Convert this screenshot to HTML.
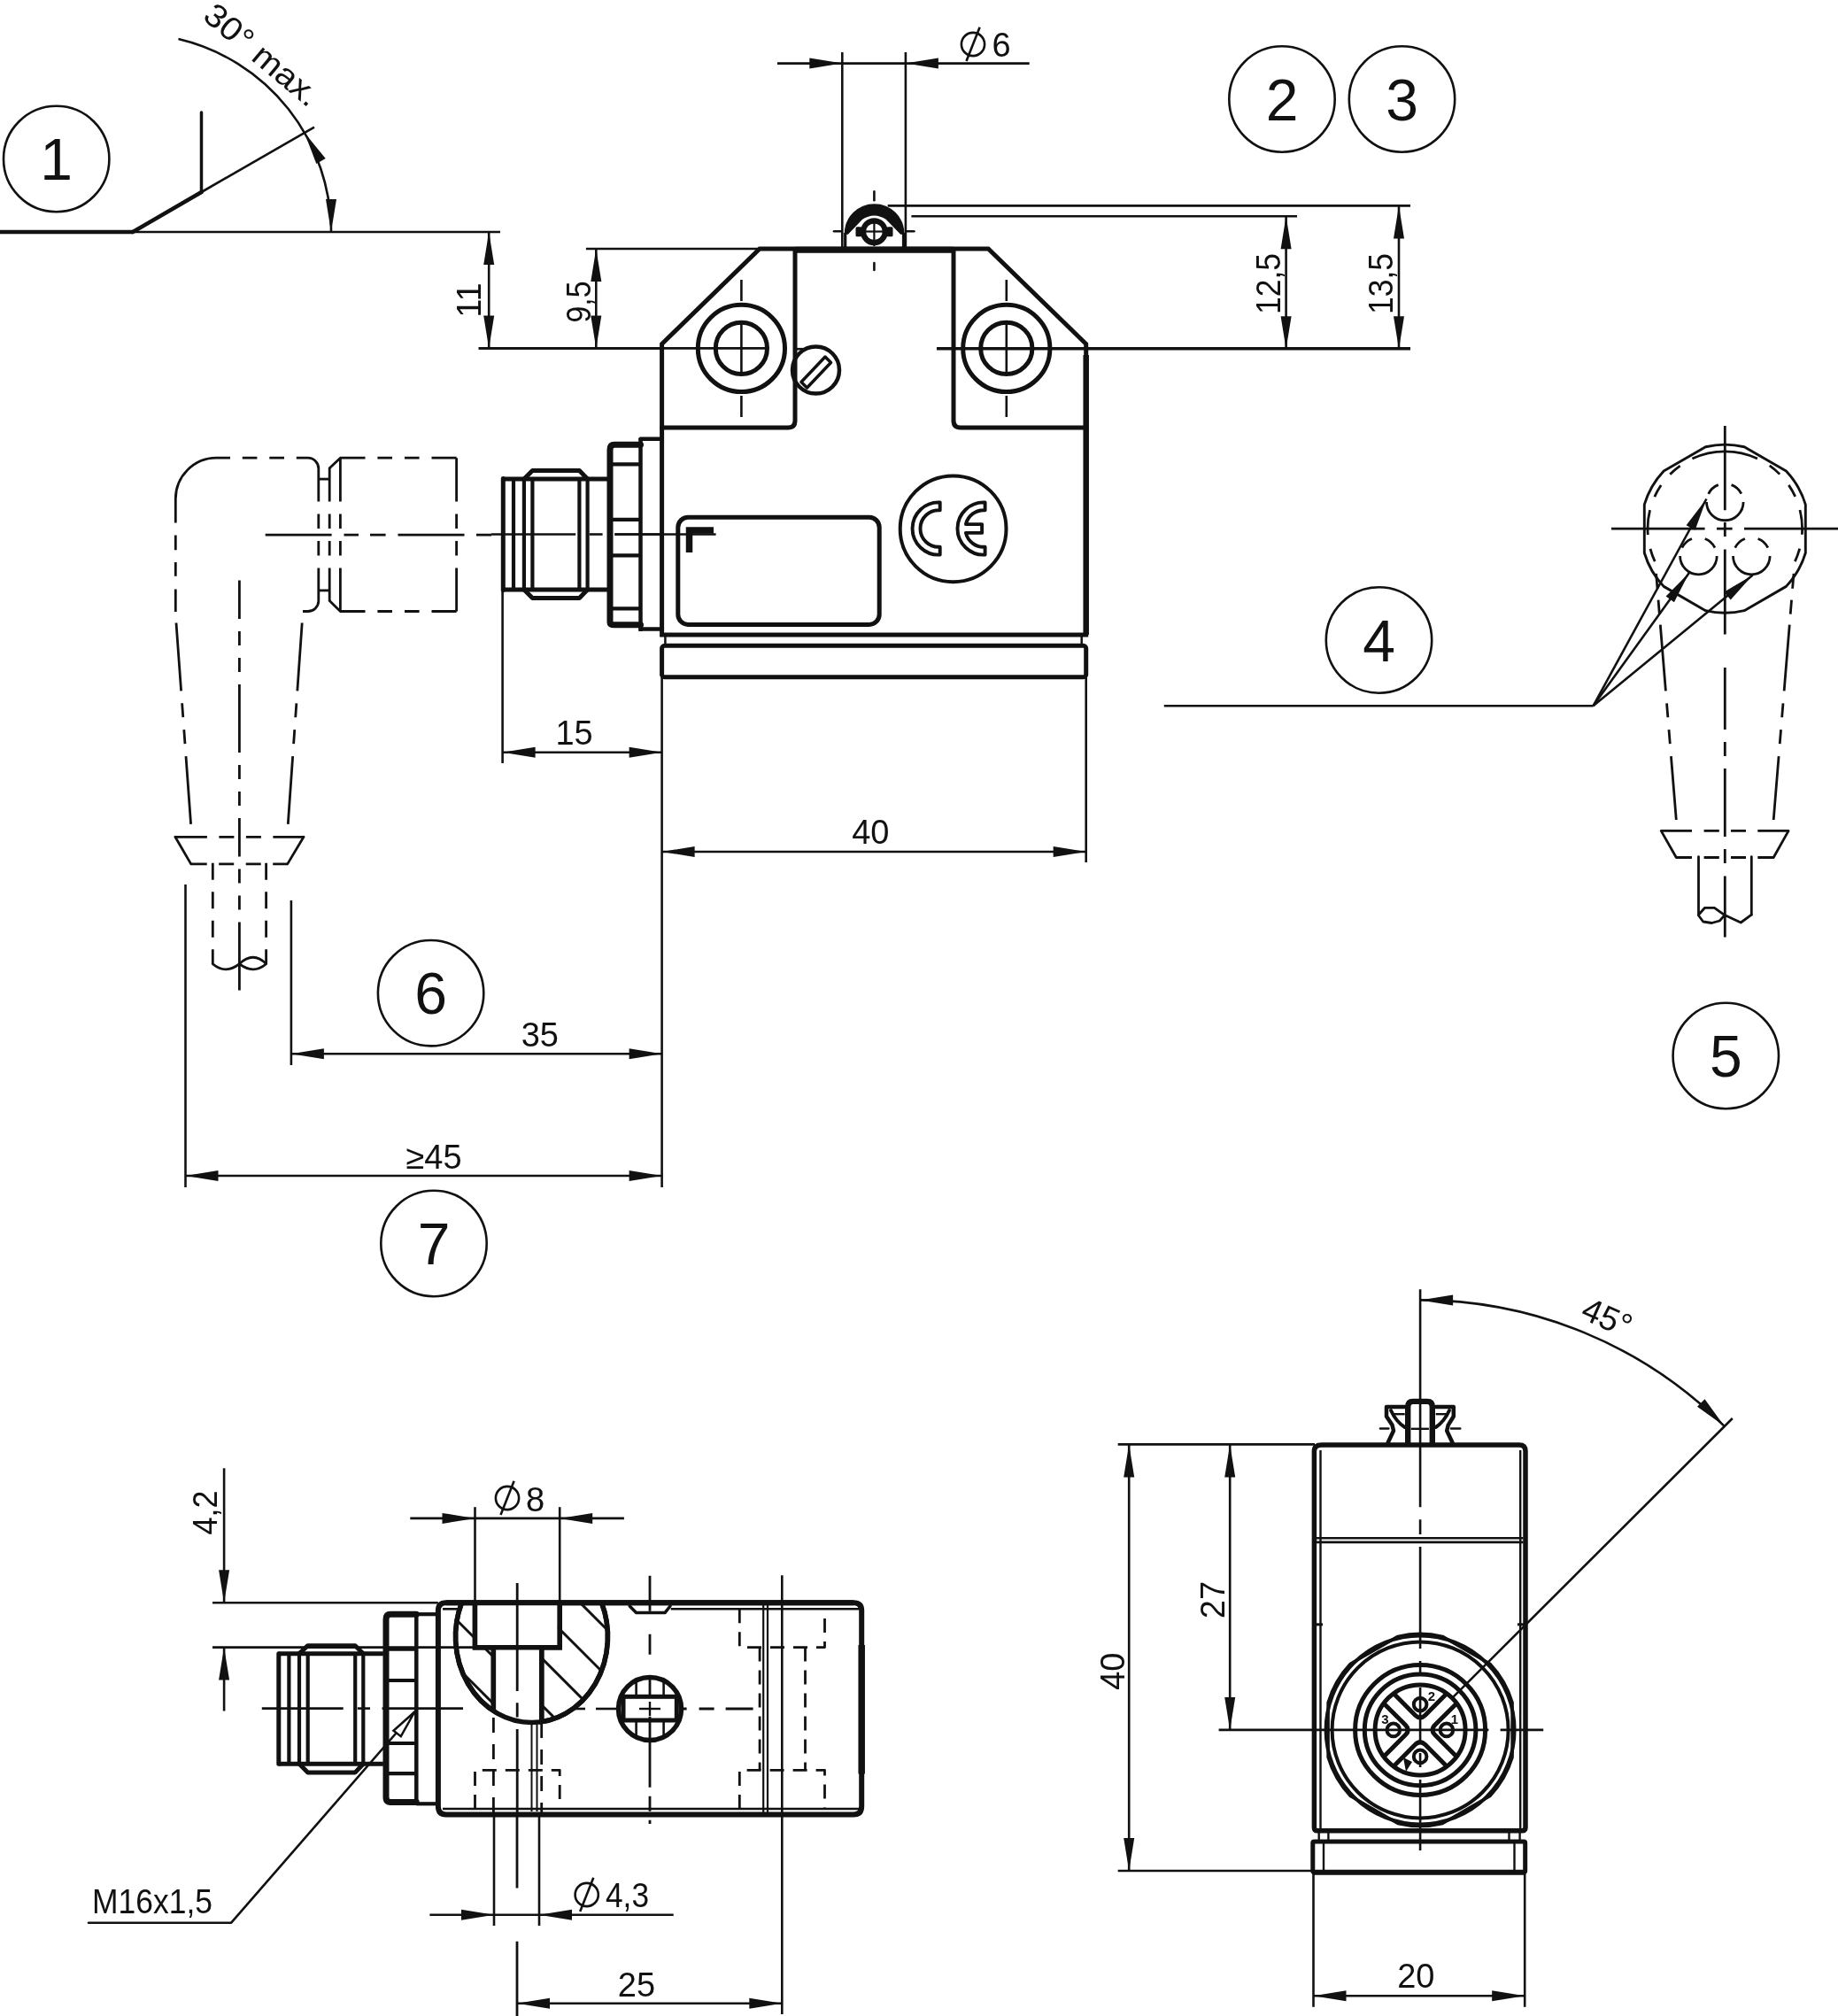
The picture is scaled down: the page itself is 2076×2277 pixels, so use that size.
<!DOCTYPE html>
<html><head><meta charset="utf-8"><style>
html,body{margin:0;padding:0;background:#fff;}
svg{display:block;will-change:transform;}
text{font-family:"Liberation Sans",sans-serif;fill:#111;stroke:none;}
</style></head><body>
<svg width="2076" height="2277" viewBox="0 0 2076 2277" stroke="#111" fill="none">
<circle cx="63.7" cy="179.5" r="59.7" stroke-width="2.6" fill="none"/>
<text x="63.7" y="203.0" font-size="66" text-anchor="middle">1</text>
<line x1="0.0" y1="262.0" x2="565.0" y2="262.0" stroke-width="2.6" stroke-linecap="butt"/>
<line x1="0.0" y1="262.0" x2="150.0" y2="262.0" stroke-width="4.5" stroke-linecap="butt"/>
<line x1="150.0" y1="262.0" x2="227.5" y2="217.0" stroke-width="4.5" stroke-linecap="round"/>
<line x1="227.5" y1="217.0" x2="355.0" y2="143.6" stroke-width="2.6" stroke-linecap="butt"/>
<line x1="227.5" y1="127.0" x2="227.5" y2="217.0" stroke-width="3.5" stroke-linecap="round"/>
<path d="M374.0,262.0 A224,224 0 0 0 201.5,44.0" stroke-width="2.6" fill="none" stroke-linejoin="round" stroke-linecap="butt"/>
<polygon points="344.0,150.0 367.7,179.0 357.3,185.0" stroke="none" fill="#111"/>
<polygon points="374.0,262.0 368.0,225.0 380.0,225.0" stroke="none" fill="#111"/>
<text x="288.0" y="71.5" font-size="37" text-anchor="middle" transform="rotate(40 288.0 71.5)" textLength="158" lengthAdjust="spacingAndGlyphs">30° max.</text>
<line x1="540.7" y1="393.4" x2="747.6" y2="393.4" stroke-width="2.6" stroke-linecap="butt"/>
<line x1="552.2" y1="262.0" x2="552.2" y2="393.4" stroke-width="2.6" stroke-linecap="butt"/>
<polygon points="552.2,262.0 558.2,299.0 546.2,299.0" stroke="none" fill="#111"/>
<polygon points="552.2,393.4 546.2,356.4 558.2,356.4" stroke="none" fill="#111"/>
<text x="543.0" y="339.0" font-size="38" text-anchor="middle" transform="rotate(-90 543.0 339.0)">11</text>
<line x1="661.9" y1="281.0" x2="858.0" y2="281.0" stroke-width="2.6" stroke-linecap="butt"/>
<line x1="673.3" y1="281.0" x2="673.3" y2="393.4" stroke-width="2.6" stroke-linecap="butt"/>
<polygon points="673.3,281.0 679.3,318.0 667.3,318.0" stroke="none" fill="#111"/>
<polygon points="673.3,393.4 667.3,356.4 679.3,356.4" stroke="none" fill="#111"/>
<text x="667.0" y="341.0" font-size="38" text-anchor="middle" transform="rotate(-90 667.0 341.0)" textLength="47" lengthAdjust="spacingAndGlyphs">9,5</text>
<path d="M747.6,717 L747.6,388.5 L858,281 L1116.3,281 L1226.7,388.5 L1226.7,717 Z" stroke-width="5.0" fill="none" stroke-linejoin="miter" stroke-linecap="round"/>
<path d="M747.6,483 L890,483 Q898,483 898,475 L898,283" stroke-width="5.0" fill="none" stroke-linejoin="round" stroke-linecap="round"/>
<path d="M1226.7,483 L1085,483 Q1077,483 1077,475 L1077,283" stroke-width="5.0" fill="none" stroke-linejoin="round" stroke-linecap="round"/>
<rect x="747.6" y="729.3" width="479.1" height="35.4" rx="3" stroke-width="5.0" fill="none"/>
<line x1="751.4" y1="717.0" x2="751.4" y2="729.0" stroke-width="2.5" stroke-linecap="butt"/>
<line x1="1221.7" y1="717.0" x2="1221.7" y2="729.0" stroke-width="2.5" stroke-linecap="butt"/>
<circle cx="837.4" cy="393.4" r="49.1" stroke-width="5.0" fill="none"/>
<circle cx="837.4" cy="393.4" r="29.1" stroke-width="5.0" fill="none"/>
<line x1="837.4" y1="364.0" x2="837.4" y2="423.0" stroke-width="2.6" stroke-linecap="butt"/>
<line x1="837.4" y1="316.0" x2="837.4" y2="340.0" stroke-width="2.6" stroke-linecap="butt"/>
<line x1="837.4" y1="447.0" x2="837.4" y2="471.0" stroke-width="2.6" stroke-linecap="butt"/>
<circle cx="1136.8" cy="393.4" r="49.1" stroke-width="5.0" fill="none"/>
<circle cx="1136.8" cy="393.4" r="29.1" stroke-width="5.0" fill="none"/>
<line x1="1136.8" y1="364.0" x2="1136.8" y2="423.0" stroke-width="2.6" stroke-linecap="butt"/>
<line x1="1136.8" y1="316.0" x2="1136.8" y2="340.0" stroke-width="2.6" stroke-linecap="butt"/>
<line x1="1136.8" y1="447.0" x2="1136.8" y2="471.0" stroke-width="2.6" stroke-linecap="butt"/>
<line x1="540.7" y1="393.4" x2="867.5" y2="393.4" stroke-width="2.6" stroke-linecap="butt"/>
<line x1="1058.0" y1="393.4" x2="1593.0" y2="393.4" stroke-width="2.6" stroke-linecap="butt"/>
<circle cx="921.5" cy="418.0" r="26.5" stroke-width="4.5" fill="none"/>
<path d="M905,431.5 L932,403 L938.5,409.5 L911.5,438 Z" stroke-width="3.5" fill="none" stroke-linejoin="round" stroke-linecap="round"/>
<rect x="765.8" y="584.3" width="227.4" height="121.1" rx="11.4" stroke-width="5.0" fill="none"/>
<path d="M778.5,624 L778.5,599 L806,599" stroke-width="7.5" fill="none" stroke-linejoin="miter" stroke-linecap="butt"/>
<line x1="694.3" y1="603.5" x2="808.6" y2="603.5" stroke-width="2.6" stroke-linecap="butt"/>
<circle cx="1076.6" cy="597.3" r="59.9" stroke-width="4" fill="none"/>
<line x1="898.0" y1="282.2" x2="1077.0" y2="282.2" stroke-width="7" stroke-linecap="butt"/>
<line x1="1226.7" y1="401.0" x2="1226.7" y2="717.0" stroke-width="6.5" stroke-linecap="butt"/>
<path d="M1061.70,567.44 A29.6,29.6 0 1 0 1061.70,626.56 L1061.70,617.75 A20.8,20.8 0 1 1 1061.70,576.25 Z" stroke-width="3.9" fill="none" stroke-linejoin="round" stroke-linecap="round"/>
<path d="M1112.60,567.44 A29.6,29.6 0 1 0 1112.60,626.56 L1112.60,617.75 A20.8,20.8 0 0 1 1090.89,601.90 L1109.10,601.90 L1109.10,592.10 L1090.89,592.10 A20.8,20.8 0 0 1 1112.60,576.25 Z" stroke-width="3.9" fill="none" stroke-linejoin="round" stroke-linecap="round"/>
<path d="M568.3,540.4 L568.3,666.6" stroke-width="5.0" fill="none" stroke-linejoin="round" stroke-linecap="round"/>
<line x1="568.3" y1="541.0" x2="686.0" y2="541.0" stroke-width="5.0" stroke-linecap="butt"/>
<line x1="568.3" y1="666.0" x2="686.0" y2="666.0" stroke-width="5.0" stroke-linecap="butt"/>
<line x1="580.0" y1="541.0" x2="580.0" y2="666.0" stroke-width="4.2" stroke-linecap="butt"/>
<line x1="591.9" y1="541.0" x2="591.9" y2="666.0" stroke-width="4.2" stroke-linecap="butt"/>
<line x1="601.4" y1="541.0" x2="601.4" y2="666.0" stroke-width="4.2" stroke-linecap="butt"/>
<line x1="654.4" y1="541.0" x2="654.4" y2="666.0" stroke-width="4.2" stroke-linecap="butt"/>
<line x1="663.6" y1="541.0" x2="663.6" y2="666.0" stroke-width="4.2" stroke-linecap="butt"/>
<path d="M591.9,541 L601.4,531.4 L654.4,531.4 L663.6,541" stroke-width="5.0" fill="none" stroke-linejoin="round" stroke-linecap="round"/>
<path d="M591.9,666 L601.4,675.5 L654.4,675.5 L663.6,666" stroke-width="5.0" fill="none" stroke-linejoin="round" stroke-linecap="round"/>
<path d="M723.5,502.3 L694,502.3 Q689,502.3 689,508 L689,703 Q689,705.8 694,705.8 L723.5,705.8" stroke-width="7" fill="none" stroke-linejoin="round" stroke-linecap="round"/>
<line x1="723.5" y1="495.0" x2="723.5" y2="713.0" stroke-width="4.5" stroke-linecap="butt"/>
<line x1="691.0" y1="524.3" x2="723.5" y2="524.3" stroke-width="4.2" stroke-linecap="butt"/>
<line x1="691.0" y1="586.8" x2="723.5" y2="586.8" stroke-width="4.2" stroke-linecap="butt"/>
<line x1="691.0" y1="627.3" x2="723.5" y2="627.3" stroke-width="4.2" stroke-linecap="butt"/>
<line x1="691.0" y1="687.4" x2="723.5" y2="687.4" stroke-width="4.2" stroke-linecap="butt"/>
<path d="M723.5,495.7 L747.3,495.7 M723.5,710.6 L747.3,710.6" stroke-width="4.5" fill="none" stroke-linejoin="round" stroke-linecap="round"/>
<line x1="555.0" y1="603.5" x2="650.2" y2="603.5" stroke-width="2.6" stroke-linecap="butt"/>
<line x1="665.7" y1="603.5" x2="680.6" y2="603.5" stroke-width="2.6" stroke-linecap="butt"/>
<line x1="694.3" y1="603.5" x2="747.0" y2="603.5" stroke-width="2.6" stroke-linecap="butt"/>
<line x1="954.7" y1="263.0" x2="954.7" y2="281.0" stroke-width="3.2" stroke-linecap="butt"/>
<line x1="1020.5" y1="263.0" x2="1020.5" y2="281.0" stroke-width="3.2" stroke-linecap="butt"/>
<path d="M954.5,264 A33,33 0 0 1 1020.7,264 L1017.5,264 L1001.5,247.5 Q987.4,238 973.3,247.5 L957.5,264 Z" stroke-width="1.5" fill="#111" stroke-linejoin="round" stroke-linecap="round"/>
<circle cx="987.4" cy="261.7" r="12.4" stroke-width="6.2" fill="none"/>
<rect x="966.5" y="256.2" width="7" height="11" rx="1.5" fill="#111" stroke="none"/>
<rect x="1001.5" y="256.2" width="7" height="11" rx="1.5" fill="#111" stroke="none"/>
<line x1="987.4" y1="250.0" x2="987.4" y2="278.0" stroke-width="2.2" stroke-linecap="butt"/>
<line x1="978.0" y1="261.5" x2="997.0" y2="261.5" stroke-width="2.2" stroke-linecap="butt"/>
<line x1="987.4" y1="216.4" x2="987.4" y2="226.3" stroke-width="2.6" stroke-linecap="round"/>
<line x1="987.4" y1="297.0" x2="987.4" y2="305.0" stroke-width="2.6" stroke-linecap="round"/>
<line x1="942.0" y1="261.3" x2="950.0" y2="261.3" stroke-width="2.6" stroke-linecap="round"/>
<line x1="1024.0" y1="261.3" x2="1032.4" y2="261.3" stroke-width="2.6" stroke-linecap="round"/>
<line x1="878.0" y1="71.6" x2="1162.7" y2="71.6" stroke-width="2.6" stroke-linecap="butt"/>
<line x1="951.3" y1="59.0" x2="951.3" y2="280.0" stroke-width="2.6" stroke-linecap="butt"/>
<line x1="1022.9" y1="59.0" x2="1022.9" y2="280.0" stroke-width="2.6" stroke-linecap="butt"/>
<polygon points="951.3,71.6 914.3,77.6 914.3,65.6" stroke="none" fill="#111"/>
<polygon points="1022.9,71.6 1059.9,65.6 1059.9,77.6" stroke="none" fill="#111"/>
<circle cx="1099.0" cy="50.0" r="13.1" stroke-width="2.6" fill="none"/>
<line x1="1106.6" y1="30.8" x2="1091.5" y2="69.0" stroke-width="2.6" stroke-linecap="butt"/>
<text x="1131.0" y="63.5" font-size="38" text-anchor="middle">6</text>
<line x1="1002.7" y1="232.4" x2="1593.0" y2="232.4" stroke-width="2.6" stroke-linecap="butt"/>
<line x1="1029.4" y1="244.2" x2="1465.0" y2="244.2" stroke-width="2.6" stroke-linecap="butt"/>
<line x1="1058.0" y1="394.2" x2="1593.0" y2="394.2" stroke-width="2.6" stroke-linecap="butt"/>
<line x1="898.0" y1="394.2" x2="912.0" y2="394.2" stroke-width="2.6" stroke-linecap="butt"/>
<line x1="1452.6" y1="244.2" x2="1452.6" y2="394.2" stroke-width="2.6" stroke-linecap="butt"/>
<polygon points="1452.6,244.2 1458.6,281.2 1446.6,281.2" stroke="none" fill="#111"/>
<polygon points="1452.6,394.2 1446.6,357.2 1458.6,357.2" stroke="none" fill="#111"/>
<text x="1446.0" y="320.5" font-size="38" text-anchor="middle" transform="rotate(-90 1446.0 320.5)" textLength="69" lengthAdjust="spacingAndGlyphs">12,5</text>
<line x1="1580.0" y1="232.4" x2="1580.0" y2="394.2" stroke-width="2.6" stroke-linecap="butt"/>
<polygon points="1580.0,232.4 1586.0,269.4 1574.0,269.4" stroke="none" fill="#111"/>
<polygon points="1580.0,394.2 1574.0,357.2 1586.0,357.2" stroke="none" fill="#111"/>
<text x="1573.0" y="320.5" font-size="38" text-anchor="middle" transform="rotate(-90 1573.0 320.5)" textLength="69" lengthAdjust="spacingAndGlyphs">13,5</text>
<circle cx="1448.0" cy="112.0" r="59.7" stroke-width="2.6" fill="none"/>
<text x="1448.0" y="135.5" font-size="66" text-anchor="middle">2</text>
<circle cx="1583.5" cy="112.0" r="59.7" stroke-width="2.6" fill="none"/>
<text x="1583.5" y="135.5" font-size="66" text-anchor="middle">3</text>
<path d="M198.3,590.6 L198.3,563.5 A46.3,46.3 0 0 1 244.3,517.2 L260,517.2" stroke-width="2.8" fill="none" stroke-linejoin="round" stroke-linecap="butt"/>
<path d="M273.8,517.2 L290.4,517.2 M304.3,517.2 L321,517.2" stroke-width="2.8" fill="none" stroke-linejoin="round" stroke-linecap="butt"/>
<path d="M334.8,517.2 L347.8,517.2 A12,12 0 0 1 359.8,529.2 L359.8,566.6" stroke-width="2.8" fill="none" stroke-linejoin="round" stroke-linecap="butt"/>
<path d="M198.3,604.5 L198.3,621.2 M198.3,635 L198.3,650.8 M198.3,665.6 L198.3,691" stroke-width="2.8" fill="none" stroke-linejoin="round" stroke-linecap="butt"/>
<path d="M359.8,580.5 L359.8,597 M359.8,611 L359.8,627.6" stroke-width="2.8" fill="none" stroke-linejoin="round" stroke-linecap="butt"/>
<path d="M359.8,641.5 L359.8,679 A12,12 0 0 1 347.8,690.5 L342,690.5" stroke-width="2.8" fill="none" stroke-linejoin="round" stroke-linecap="butt"/>
<path d="M372.2,528.7 L372.2,566.6 M372.2,580.5 L372.2,597 M372.2,611 L372.2,627.6 M372.2,641.5 L372.2,678.5" stroke-width="2.8" fill="none" stroke-linejoin="round" stroke-linecap="butt"/>
<line x1="359.8" y1="541.1" x2="372.2" y2="541.1" stroke-width="2.8" stroke-linecap="butt"/>
<line x1="359.8" y1="666.9" x2="372.2" y2="666.9" stroke-width="2.8" stroke-linecap="butt"/>
<path d="M372.2,528.7 L384.4,517.2 M372.2,678.5 L384.4,690.5" stroke-width="2.8" fill="none" stroke-linejoin="round" stroke-linecap="round"/>
<path d="M384.4,517.2 L384.4,566.6 M384.4,580.5 L384.4,597 M384.4,611 L384.4,627.6 M384.4,641.5 L384.4,690.5" stroke-width="2.8" fill="none" stroke-linejoin="round" stroke-linecap="butt"/>
<path d="M384.4,517.2 L412.5,517.2 M426.4,517.2 L443,517.2 M457,517.2 L473.6,517.2 M487.5,517.2 L515.6,517.2" stroke-width="2.8" fill="none" stroke-linejoin="round" stroke-linecap="butt"/>
<path d="M384.4,690.5 L412.5,690.5 M426.4,690.5 L443,690.5 M457,690.5 L473.6,690.5 M487.5,690.5 L515.6,690.5" stroke-width="2.8" fill="none" stroke-linejoin="round" stroke-linecap="butt"/>
<path d="M515.6,517.2 L515.6,566.6 M515.6,580.5 L515.6,597 M515.6,611 L515.6,627.6 M515.6,641.5 L515.6,690.5" stroke-width="2.8" fill="none" stroke-linejoin="round" stroke-linecap="butt"/>
<path d="M199,703.5 L215.7,932.3" stroke-width="2.8" fill="none" stroke-dasharray="77 14 16 14 16 14" stroke-linejoin="round" stroke-linecap="butt"/>
<path d="M341.2,703.5 L325.2,932.3" stroke-width="2.8" fill="none" stroke-dasharray="77 14 16 14 16 14" stroke-linejoin="round" stroke-linecap="butt"/>
<path d="M197.9,945.3 L215.7,975.9 M343,945.3 L324.7,975.9" stroke-width="2.8" fill="none" stroke-linejoin="round" stroke-linecap="round"/>
<path d="M197.9,945.3 L343,945.3" stroke-width="2.8" fill="none" stroke-dasharray="36 13.5 17 13.5 17 13.5 36" stroke-linejoin="round" stroke-linecap="butt"/>
<path d="M215.7,975.9 L324.7,975.9" stroke-width="2.8" fill="none" stroke-dasharray="18 13.5 17 13.5 17 13.5 18" stroke-linejoin="round" stroke-linecap="butt"/>
<path d="M240.3,974.8 L240.3,1088.7 M300.6,974.8 L300.6,1088.7" stroke-width="2.8" fill="none" stroke-dasharray="19 13.5" stroke-linejoin="round" stroke-linecap="butt"/>
<path d="M240.3,1088.7 Q255,1101 270.4,1088.7 Q286,1074 300.6,1088.7 Q286,1101 270.4,1088.7" stroke-width="2.8" fill="none" stroke-linejoin="round" stroke-linecap="round"/>
<path d="M270.4,655.4 L270.4,1120" stroke-width="2.8" fill="none" stroke-dasharray="43.5 14 16 14 16 14 77 14 16 14 16 14" stroke-linejoin="round" stroke-linecap="butt"/>
<path d="M299.7,604.2 L374.6,604.2 M388.5,604.2 L405,604.2 M418,604.2 L435.6,604.2 M449.5,604.2 L524.5,604.2 M538,604.2 L555,604.2" stroke-width="2.8" fill="none" stroke-linejoin="round" stroke-linecap="butt"/>
<line x1="567.6" y1="666.7" x2="567.6" y2="862.0" stroke-width="2.6" stroke-linecap="butt"/>
<line x1="567.6" y1="849.8" x2="747.6" y2="849.8" stroke-width="2.6" stroke-linecap="butt"/>
<polygon points="567.6,849.8 604.6,843.8 604.6,855.8" stroke="none" fill="#111"/>
<polygon points="747.6,849.8 710.6,855.8 710.6,843.8" stroke="none" fill="#111"/>
<text x="648.6" y="841.0" font-size="38" text-anchor="middle">15</text>
<line x1="747.6" y1="765.0" x2="747.6" y2="1341.0" stroke-width="2.6" stroke-linecap="butt"/>
<line x1="1226.7" y1="765.0" x2="1226.7" y2="974.0" stroke-width="2.6" stroke-linecap="butt"/>
<line x1="747.6" y1="962.0" x2="1226.7" y2="962.0" stroke-width="2.6" stroke-linecap="butt"/>
<polygon points="747.6,962.0 784.6,956.0 784.6,968.0" stroke="none" fill="#111"/>
<polygon points="1226.7,962.0 1189.7,968.0 1189.7,956.0" stroke="none" fill="#111"/>
<text x="983.3" y="952.5" font-size="38" text-anchor="middle">40</text>
<line x1="328.9" y1="1017.0" x2="328.9" y2="1203.0" stroke-width="2.6" stroke-linecap="butt"/>
<line x1="328.9" y1="1190.2" x2="747.6" y2="1190.2" stroke-width="2.6" stroke-linecap="butt"/>
<polygon points="328.9,1190.2 365.9,1184.2 365.9,1196.2" stroke="none" fill="#111"/>
<polygon points="747.6,1190.2 710.6,1196.2 710.6,1184.2" stroke="none" fill="#111"/>
<text x="609.8" y="1181.5" font-size="38" text-anchor="middle">35</text>
<line x1="209.5" y1="999.0" x2="209.5" y2="1341.0" stroke-width="2.6" stroke-linecap="butt"/>
<line x1="209.5" y1="1328.0" x2="747.6" y2="1328.0" stroke-width="2.6" stroke-linecap="butt"/>
<polygon points="209.5,1328.0 246.5,1322.0 246.5,1334.0" stroke="none" fill="#111"/>
<polygon points="747.6,1328.0 710.6,1334.0 710.6,1322.0" stroke="none" fill="#111"/>
<text x="490.0" y="1319.5" font-size="38" text-anchor="middle">≥45</text>
<circle cx="486.6" cy="1121.7" r="59.7" stroke-width="2.6" fill="none"/>
<text x="486.6" y="1145.2" font-size="66" text-anchor="middle">6</text>
<circle cx="490.0" cy="1404.5" r="59.7" stroke-width="2.6" fill="none"/>
<text x="490.0" y="1428.0" font-size="66" text-anchor="middle">7</text>
<circle cx="1557.5" cy="723.0" r="59.7" stroke-width="2.6" fill="none"/>
<text x="1557.5" y="746.5" font-size="66" text-anchor="middle">4</text>
<circle cx="1949.3" cy="1192.5" r="59.7" stroke-width="2.6" fill="none"/>
<text x="1949.3" y="1216.0" font-size="66" text-anchor="middle">5</text>
<path d="M2039.30,569.92 L2039.30,624.48 A95,95 0 0 1 2017.42,662.37 L1970.18,689.65 A95,95 0 0 1 1926.42,689.65 L1879.18,662.37 A95,95 0 0 1 1857.30,624.48 L1857.30,569.92 A95,95 0 0 1 1879.18,532.03 L1926.42,504.75 A95,95 0 0 1 1970.18,504.75 L2017.42,532.03 A95,95 0 0 1 2039.30,569.92 Z" stroke-width="2.9" fill="none" stroke-linejoin="round" stroke-linecap="round"/>
<path d="M2027.42,634.09 A87.3,87.3 0 1 0 1869.18,634.09" stroke-width="2.8" fill="none" stroke-dasharray="15.6 15.9 28 15.9 15 15.9 15 15.9 76 15.9 15 15.9 15 15.9 28 15.9 15.6" stroke-linejoin="round" stroke-linecap="butt"/>
<path d="M1927.5,567 A20.8,20.8 0 0 0 1969.1,567" stroke-width="2.8" fill="none" stroke-linejoin="round" stroke-linecap="butt"/>
<path d="M1969.1,567 A20.8,20.8 0 0 0 1927.5,567" stroke-width="2.8" fill="none" stroke-dasharray="0 9.7 15.3 15 15.3 100" stroke-linejoin="round" stroke-linecap="butt"/>
<path d="M1897.6000000000001,628 A20.8,20.8 0 0 0 1939.2,628" stroke-width="2.8" fill="none" stroke-linejoin="round" stroke-linecap="butt"/>
<path d="M1939.2,628 A20.8,20.8 0 0 0 1897.6000000000001,628" stroke-width="2.8" fill="none" stroke-dasharray="0 9.7 15.3 15 15.3 100" stroke-linejoin="round" stroke-linecap="butt"/>
<path d="M1957.5,628 A20.8,20.8 0 0 0 1999.1,628" stroke-width="2.8" fill="none" stroke-linejoin="round" stroke-linecap="butt"/>
<path d="M1999.1,628 A20.8,20.8 0 0 0 1957.5,628" stroke-width="2.8" fill="none" stroke-dasharray="0 9.7 15.3 15 15.3 100" stroke-linejoin="round" stroke-linecap="butt"/>
<path d="M1948.3,481 L1948.3,1059.6" stroke-width="2.8" fill="none" stroke-dasharray="95.3 13.7 16 14.5 96 37.5 70 14 16 14 77 14 16 14.4 69 100" stroke-linejoin="round" stroke-linecap="butt"/>
<path d="M1820,597.2 L2076,597.2" stroke-width="2.8" fill="none" stroke-dasharray="105.6 13.4 17.6 13.4 200" stroke-linejoin="round" stroke-linecap="butt"/>
<line x1="1314.8" y1="797.3" x2="1799.5" y2="797.3" stroke-width="2.6" stroke-linecap="butt"/>
<line x1="1799.5" y1="797.3" x2="1927.4" y2="563.5" stroke-width="2.6" stroke-linecap="butt"/>
<polygon points="1927.4,563.5 1914.6,598.7 1904.6,593.2" stroke="none" fill="#111"/>
<line x1="1799.5" y1="797.3" x2="1907.9" y2="646.9" stroke-width="2.6" stroke-linecap="butt"/>
<polygon points="1907.9,646.9 1890.9,680.2 1881.6,673.6" stroke="none" fill="#111"/>
<line x1="1799.5" y1="797.3" x2="1979.7" y2="649.5" stroke-width="2.6" stroke-linecap="butt"/>
<polygon points="1979.7,649.5 1954.7,677.4 1947.5,668.6" stroke="none" fill="#111"/>
<path d="M1870.6,647.8 L1893.3,926" stroke-width="2.8" fill="none" stroke-dasharray="17 13 16 12 75 14 16 14 16 14 77" stroke-linejoin="round" stroke-linecap="butt"/>
<path d="M2026,647.8 L2003.2,926" stroke-width="2.8" fill="none" stroke-dasharray="17 13 16 12 75 14 16 14 16 14 77" stroke-linejoin="round" stroke-linecap="butt"/>
<path d="M1876.2,938.4 L1893.3,968.5 M2020.1,938.4 L2003.2,968.5" stroke-width="2.8" fill="none" stroke-linejoin="round" stroke-linecap="round"/>
<path d="M1876.2,938.4 L2020.1,938.4" stroke-width="2.8" fill="none" stroke-dasharray="34.8 13.6 17.2 13.2 17 13.3 35" stroke-linejoin="round" stroke-linecap="butt"/>
<path d="M1893.3,968.5 L2003.2,968.5" stroke-width="2.8" fill="none" stroke-dasharray="17.7 13.6 17.2 13.2 17 13.3 18" stroke-linejoin="round" stroke-linecap="butt"/>
<path d="M1918.5,967.6 L1918.5,1033.2 M1978.3,967.6 L1978.3,1033.2" stroke-width="2.8" fill="none" stroke-linejoin="round" stroke-linecap="round"/>
<path d="M1918.5,1033.2 L1925.6,1025.3 L1936.4,1025.3 L1948,1033.6 L1942.3,1040 L1933.4,1042.5 L1923.7,1041 L1918.5,1034 M1948,1033.6 L1966.2,1042 L1978.3,1033.2" stroke-width="2.8" fill="none" stroke-linejoin="round" stroke-linecap="round"/>
<line x1="240.0" y1="1810.3" x2="494.8" y2="1810.3" stroke-width="2.6" stroke-linecap="butt"/>
<line x1="240.0" y1="1860.6" x2="536.5" y2="1860.6" stroke-width="2.6" stroke-linecap="butt"/>
<line x1="253.1" y1="1658.3" x2="253.1" y2="1810.3" stroke-width="2.6" stroke-linecap="butt"/>
<polygon points="253.1,1810.3 247.1,1773.3 259.1,1773.3" stroke="none" fill="#111"/>
<line x1="253.1" y1="1860.6" x2="253.1" y2="1932.5" stroke-width="2.6" stroke-linecap="butt"/>
<polygon points="253.1,1860.6 259.1,1897.6 247.1,1897.6" stroke="none" fill="#111"/>
<text x="245.0" y="1708.5" font-size="38" text-anchor="middle" transform="rotate(-90 245.0 1708.5)" textLength="50" lengthAdjust="spacingAndGlyphs">4,2</text>
<line x1="463.3" y1="1714.9" x2="704.9" y2="1714.9" stroke-width="2.6" stroke-linecap="butt"/>
<line x1="536.5" y1="1702.2" x2="536.5" y2="1861.0" stroke-width="2.6" stroke-linecap="butt"/>
<line x1="632.2" y1="1702.2" x2="632.2" y2="1861.0" stroke-width="2.6" stroke-linecap="butt"/>
<polygon points="536.5,1714.9 499.5,1720.9 499.5,1708.9" stroke="none" fill="#111"/>
<polygon points="632.2,1714.9 669.2,1708.9 669.2,1720.9" stroke="none" fill="#111"/>
<circle cx="573.0" cy="1692.0" r="13.1" stroke-width="2.6" fill="none"/>
<line x1="580.6" y1="1672.8" x2="565.5" y2="1711.0" stroke-width="2.6" stroke-linecap="butt"/>
<text x="604.5" y="1706.5" font-size="38" text-anchor="middle">8</text>
<path d="M314.8,1867.7 L314.8,1992.2" stroke-width="5.0" fill="none" stroke-linejoin="round" stroke-linecap="round"/>
<line x1="314.8" y1="1867.7" x2="432.9" y2="1867.7" stroke-width="5.0" stroke-linecap="butt"/>
<line x1="314.8" y1="1992.2" x2="432.9" y2="1992.2" stroke-width="5.0" stroke-linecap="butt"/>
<line x1="326.4" y1="1867.7" x2="326.4" y2="1992.2" stroke-width="4.2" stroke-linecap="butt"/>
<line x1="338.0" y1="1867.7" x2="338.0" y2="1992.2" stroke-width="4.2" stroke-linecap="butt"/>
<line x1="347.7" y1="1867.7" x2="347.7" y2="1992.2" stroke-width="4.2" stroke-linecap="butt"/>
<line x1="401.2" y1="1867.7" x2="401.2" y2="1992.2" stroke-width="4.2" stroke-linecap="butt"/>
<line x1="410.3" y1="1867.7" x2="410.3" y2="1992.2" stroke-width="4.2" stroke-linecap="butt"/>
<path d="M338,1867.7 L347.7,1858.7 L401.2,1858.7 L410.3,1867.7" stroke-width="5.0" fill="none" stroke-linejoin="round" stroke-linecap="round"/>
<path d="M338,1992.2 L347.7,2001.9 L401.2,2001.9 L410.3,1992.2" stroke-width="5.0" fill="none" stroke-linejoin="round" stroke-linecap="round"/>
<path d="M470.3,1823.2 L441,1823.2 Q436,1823.2 436,1829 L436,2030 Q436,2035.4 441,2035.4 L470.3,2035.4" stroke-width="7" fill="none" stroke-linejoin="round" stroke-linecap="round"/>
<line x1="470.3" y1="1823.2" x2="470.3" y2="2035.4" stroke-width="4.5" stroke-linecap="butt"/>
<line x1="438.0" y1="1862.6" x2="470.3" y2="1862.6" stroke-width="4.2" stroke-linecap="butt"/>
<line x1="438.0" y1="1898.0" x2="470.3" y2="1898.0" stroke-width="4.2" stroke-linecap="butt"/>
<line x1="438.0" y1="1969.0" x2="470.3" y2="1969.0" stroke-width="4.2" stroke-linecap="butt"/>
<line x1="438.0" y1="2003.1" x2="470.3" y2="2003.1" stroke-width="4.2" stroke-linecap="butt"/>
<line x1="470.3" y1="1823.2" x2="494.8" y2="1823.2" stroke-width="4.2" stroke-linecap="butt"/>
<line x1="470.3" y1="2037.3" x2="494.8" y2="2037.3" stroke-width="4.2" stroke-linecap="butt"/>
<line x1="295.8" y1="1929.6" x2="387.7" y2="1929.6" stroke-width="2.6" stroke-linecap="butt"/>
<line x1="403.8" y1="1929.6" x2="418.0" y2="1929.6" stroke-width="2.6" stroke-linecap="butt"/>
<line x1="431.6" y1="1929.6" x2="523.0" y2="1929.6" stroke-width="2.6" stroke-linecap="butt"/>
<line x1="646.0" y1="1930.0" x2="661.0" y2="1930.0" stroke-width="2.6" stroke-linecap="butt"/>
<line x1="673.0" y1="1930.0" x2="697.0" y2="1930.0" stroke-width="2.6" stroke-linecap="butt"/>
<path d="M503.8,1810.2 L964,1810.2 Q973.2,1810.2 973.2,1819 L973.2,2040 Q973.2,2049.5 964,2049.5 L503.8,2049.5 Q494.9,2049.5 494.9,2040 L494.9,1819 Q494.9,1810.2 503.8,1810.2 Z" stroke-width="6" fill="none" stroke-linejoin="round" stroke-linecap="round"/>
<line x1="973.2" y1="1858.0" x2="973.2" y2="2003.4" stroke-width="7.5" stroke-linecap="butt"/>
<line x1="500.0" y1="1817.3" x2="519.0" y2="1817.3" stroke-width="2.6" stroke-linecap="butt"/>
<line x1="757.7" y1="1817.3" x2="970.0" y2="1817.3" stroke-width="2.6" stroke-linecap="butt"/>
<line x1="500.0" y1="2043.0" x2="970.0" y2="2043.0" stroke-width="2.6" stroke-linecap="butt"/>
<path d="M711.2,1814 L718.6,1821.4 L751.2,1821.4 L757,1814" stroke-width="3.5" fill="none" stroke-linejoin="round" stroke-linecap="round"/>
<path d="M521.5,1810.2 A86,97 0 1 0 679.5,1810.2" stroke-width="5.5" fill="none" stroke-linejoin="round" stroke-linecap="butt"/>
<path d="M536.5,1810.2 L536.5,1860.8 L632.2,1860.8 L632.2,1810.2" stroke-width="5.5" fill="none" stroke-linejoin="miter" stroke-linecap="round"/>
<line x1="557.4" y1="1860.8" x2="557.4" y2="1932.2" stroke-width="5.5" stroke-linecap="butt"/>
<line x1="611.7" y1="1860.8" x2="611.7" y2="1942.6" stroke-width="5.5" stroke-linecap="butt"/>
<clipPath id="hc"><path d="M514.5,1810.2 L686.5,1810.2 L686.5,1950 L514.5,1950 Z"/></clipPath>
<clipPath id="he"><ellipse cx="600.5" cy="1848" rx="86" ry="97"/></clipPath>
<g clip-path="url(#he)"><g clip-path="url(#hc)"><path d="M545,1700 L845,2000 M492,1700 L792,2000 M439,1700 L739,2000 M386,1700 L686,2000 M333,1700 L633,2000 " stroke-width="3" fill="none"/></g></g>
<rect x="539" y="1812.5" width="90.7" height="45.8" fill="#fff" stroke="none"/>
<rect x="560" y="1863" width="49" height="90" fill="#fff" stroke="none"/>
<path d="M536.5,1810.2 L536.5,1860.8 L632.2,1860.8 L632.2,1810.2" stroke-width="5.5" fill="none" stroke-linejoin="miter" stroke-linecap="round"/>
<line x1="557.4" y1="1860.8" x2="557.4" y2="1932.2" stroke-width="5.5" stroke-linecap="butt"/>
<line x1="611.7" y1="1860.8" x2="611.7" y2="1942.6" stroke-width="5.5" stroke-linecap="butt"/>
<line x1="503.8" y1="1810.2" x2="964.0" y2="1810.2" stroke-width="6" stroke-linecap="butt"/>
<path d="M521.5,1810.2 A86,97 0 1 0 679.5,1810.2" stroke-width="5.5" fill="none" stroke-linejoin="round" stroke-linecap="butt"/>
<path d="M557.4,1940 L557.4,2049 M611.7,1946 L611.7,2049" stroke-width="2.8" fill="none" stroke-dasharray="17 13" stroke-linejoin="round" stroke-linecap="butt"/>
<line x1="600.5" y1="1945.6" x2="600.5" y2="2046.0" stroke-width="2" stroke-linecap="butt"/>
<line x1="606.5" y1="1945.6" x2="606.5" y2="2046.0" stroke-width="2" stroke-linecap="butt"/>
<path d="M536.5,2043 L536.5,1999.3 L632.2,1999.3 L632.2,2043" stroke-width="2.8" fill="none" stroke-dasharray="16 10" stroke-linejoin="round" stroke-linecap="butt"/>
<path d="M584.2,1787.9 L584.2,2050" stroke-width="2.8" fill="none" stroke-dasharray="122 13.4 16.3 13.4" stroke-linejoin="round" stroke-linecap="butt"/>
<line x1="558.0" y1="2049.0" x2="558.0" y2="2175.0" stroke-width="2.6" stroke-linecap="butt"/>
<line x1="609.0" y1="2049.0" x2="609.0" y2="2175.0" stroke-width="2.6" stroke-linecap="butt"/>
<path d="M584,2050 L584,2277" stroke-width="2.8" fill="none" stroke-dasharray="82.6 60.1 200" stroke-linejoin="round" stroke-linecap="butt"/>
<line x1="485.4" y1="2162.7" x2="760.7" y2="2162.7" stroke-width="2.6" stroke-linecap="butt"/>
<polygon points="558.0,2162.7 521.0,2168.7 521.0,2156.7" stroke="none" fill="#111"/>
<polygon points="609.0,2162.7 646.0,2156.7 646.0,2168.7" stroke="none" fill="#111"/>
<circle cx="662.7" cy="2140.0" r="13.1" stroke-width="2.6" fill="none"/>
<line x1="670.3" y1="2120.8" x2="655.2" y2="2159.0" stroke-width="2.6" stroke-linecap="butt"/>
<text x="708.5" y="2154.4" font-size="38" text-anchor="middle" textLength="49" lengthAdjust="spacingAndGlyphs">4,3</text>
<circle cx="734.0" cy="1930.0" r="35.5" stroke-width="5.5" fill="none"/>
<rect x="704.0" y="1916.3" width="60.3" height="26.7" rx="0" stroke-width="5" fill="none"/>
<line x1="718.6" y1="1897.0" x2="718.6" y2="1916.0" stroke-width="2.6" stroke-linecap="butt"/>
<line x1="749.6" y1="1897.0" x2="749.6" y2="1916.0" stroke-width="2.6" stroke-linecap="butt"/>
<line x1="718.6" y1="1943.0" x2="718.6" y2="1962.0" stroke-width="2.6" stroke-linecap="butt"/>
<line x1="749.6" y1="1943.0" x2="749.6" y2="1962.0" stroke-width="2.6" stroke-linecap="butt"/>
<path d="M734,1779.8 L734,2060" stroke-width="2.8" fill="none" stroke-dasharray="40 26 23 24 23 23 80 10 17 10 80" stroke-linejoin="round" stroke-linecap="butt"/>
<path d="M771.6,1930 L850.8,1930" stroke-width="2.8" fill="none" stroke-dasharray="4 14 17 13 31" stroke-linejoin="round" stroke-linecap="butt"/>
<line x1="722.0" y1="1930.0" x2="746.0" y2="1930.0" stroke-width="2.4" stroke-linecap="butt"/>
<line x1="734.0" y1="1922.0" x2="734.0" y2="1938.0" stroke-width="2.4" stroke-linecap="butt"/>
<path d="M835.3,1817.3 L835.3,1860.6 L931.5,1860.6 L931.5,1817.3" stroke-width="2.8" fill="none" stroke-dasharray="16 10" stroke-linejoin="round" stroke-linecap="butt"/>
<path d="M835.3,2043 L835.3,1999.3 L931.5,1999.3 L931.5,2043" stroke-width="2.8" fill="none" stroke-dasharray="16 10" stroke-linejoin="round" stroke-linecap="butt"/>
<path d="M858.1,1860.6 L858.1,1999.3 M909.5,1860.6 L909.5,1999.3" stroke-width="2.8" fill="none" stroke-dasharray="16 10" stroke-linejoin="round" stroke-linecap="butt"/>
<line x1="862.2" y1="1812.0" x2="862.2" y2="2047.0" stroke-width="2.2" stroke-linecap="butt"/>
<line x1="867.0" y1="1812.0" x2="867.0" y2="2047.0" stroke-width="2.2" stroke-linecap="butt"/>
<line x1="883.3" y1="1779.3" x2="883.3" y2="2275.0" stroke-width="2.6" stroke-linecap="butt"/>
<line x1="584.0" y1="2262.8" x2="883.3" y2="2262.8" stroke-width="2.6" stroke-linecap="butt"/>
<polygon points="584.0,2262.8 621.0,2256.8 621.0,2268.8" stroke="none" fill="#111"/>
<polygon points="883.3,2262.8 846.3,2268.8 846.3,2256.8" stroke="none" fill="#111"/>
<text x="719.0" y="2255.0" font-size="38" text-anchor="middle">25</text>
<text x="104.0" y="2161.0" font-size="38" text-anchor="start" textLength="136" lengthAdjust="spacingAndGlyphs">M16x1,5</text>
<path d="M100,2171.7 L261.2,2171.7 L468.3,1933.5" stroke-width="2.6" fill="none" stroke-linejoin="round" stroke-linecap="round"/>
<polygon points="468.3,1933.5 444.5,1954.8 452.8,1961.2" fill="#fff" stroke="#111" stroke-width="2.5"/>
<path d="M1493,1631.9 L1716,1631.9 Q1723,1631.9 1723,1639 L1723,2064 Q1723,2067.8 1719,2067.8 L1488,2067.8 Q1484.4,2067.8 1484.4,2064 L1484.4,1639 Q1484.4,1631.9 1493,1631.9 Z" stroke-width="5.5" fill="none" stroke-linejoin="round" stroke-linecap="round"/>
<line x1="1491.5" y1="1638.0" x2="1491.5" y2="2066.0" stroke-width="2.4" stroke-linecap="butt"/>
<line x1="1717.2" y1="1638.0" x2="1717.2" y2="2066.0" stroke-width="2.4" stroke-linecap="butt"/>
<line x1="1486.7" y1="1737.3" x2="1720.5" y2="1737.3" stroke-width="2.6" stroke-linecap="butt"/>
<line x1="1486.7" y1="1741.9" x2="1720.5" y2="1741.9" stroke-width="2.6" stroke-linecap="butt"/>
<line x1="1484.0" y1="1834.8" x2="1494.0" y2="1834.8" stroke-width="3" stroke-linecap="butt"/>
<line x1="1714.0" y1="1834.8" x2="1724.0" y2="1834.8" stroke-width="3" stroke-linecap="butt"/>
<rect x="1482.8" y="2080.0" width="239.9" height="34.4" rx="1.5" stroke-width="5" fill="none"/>
<line x1="1482.8" y1="2114.8" x2="1722.7" y2="2114.8" stroke-width="6" stroke-linecap="butt"/>
<line x1="1495.0" y1="2080.0" x2="1495.0" y2="2114.0" stroke-width="2.4" stroke-linecap="butt"/>
<line x1="1710.5" y1="2080.0" x2="1710.5" y2="2114.0" stroke-width="2.4" stroke-linecap="butt"/>
<line x1="1489.7" y1="2067.8" x2="1489.7" y2="2080.0" stroke-width="2.4" stroke-linecap="butt"/>
<line x1="1500.4" y1="2067.8" x2="1500.4" y2="2080.0" stroke-width="2.4" stroke-linecap="butt"/>
<line x1="1704.5" y1="2067.8" x2="1704.5" y2="2080.0" stroke-width="2.4" stroke-linecap="butt"/>
<line x1="1716.6" y1="2067.8" x2="1716.6" y2="2080.0" stroke-width="2.4" stroke-linecap="butt"/>
<path d="M1590.2,1631 L1590.2,1589 Q1590.2,1582.9 1596,1582.9 L1612,1582.9 Q1617.8,1582.9 1617.8,1589 L1617.8,1631" stroke-width="6.4" fill="none" stroke-linejoin="round" stroke-linecap="butt"/>
<line x1="1593.7" y1="1613.8" x2="1613.9" y2="1613.8" stroke-width="2.4" stroke-linecap="butt"/>
<path d="M1586.7,1589.1 L1566,1589.1 L1566,1599.7 L1572.5,1609.6 L1574,1616 L1567.6,1629.5" stroke-width="4.5" fill="none" stroke-linejoin="round" stroke-linecap="round"/>
<path d="M1621.7,1589.1 L1641.8,1589.1 L1641.8,1599.7 L1635.7,1609.6 L1634.2,1616 L1640.6,1629.5" stroke-width="4.5" fill="none" stroke-linejoin="round" stroke-linecap="round"/>
<path d="M1571,1593 Q1577,1606 1586.7,1612" stroke-width="4" fill="none" stroke-linejoin="round" stroke-linecap="round"/>
<path d="M1637,1593 Q1631,1606 1621.7,1612" stroke-width="4" fill="none" stroke-linejoin="round" stroke-linecap="round"/>
<line x1="1572.0" y1="1597.2" x2="1586.7" y2="1597.2" stroke-width="2.4" stroke-linecap="butt"/>
<line x1="1621.7" y1="1597.2" x2="1636.0" y2="1597.2" stroke-width="2.4" stroke-linecap="butt"/>
<line x1="1559.0" y1="1613.5" x2="1568.3" y2="1613.5" stroke-width="2.6" stroke-linecap="round"/>
<line x1="1639.0" y1="1613.5" x2="1649.2" y2="1613.5" stroke-width="2.6" stroke-linecap="round"/>
<path d="M1604.1,1456.3 L1604.1,2092" stroke-width="2.6" fill="none" stroke-dasharray="246 14 16.7 14 115 14 16 14 60 14 16 14 80 14 16 14 80" stroke-linejoin="round" stroke-linecap="butt"/>
<path d="M1708.10,1922.98 L1708.10,1984.82 A108.5,108.5 0 0 1 1682.88,2028.50 L1629.32,2059.43 A108.5,108.5 0 0 1 1578.88,2059.43 L1525.32,2028.50 A108.5,108.5 0 0 1 1500.10,1984.82 L1500.10,1922.98 A108.5,108.5 0 0 1 1525.32,1879.30 L1578.88,1848.37 A108.5,108.5 0 0 1 1629.32,1848.37 L1682.88,1879.30 A108.5,108.5 0 0 1 1708.10,1922.98 Z" stroke-width="3.5" fill="none" stroke-linejoin="round" stroke-linecap="round"/>
<circle cx="1604.1" cy="1953.9" r="106.5" stroke-width="4" fill="none"/>
<circle cx="1604.1" cy="1953.9" r="99.5" stroke-width="4" fill="none"/>
<circle cx="1604.1" cy="1953.9" r="73.5" stroke-width="5" fill="none"/>
<circle cx="1604.1" cy="1953.9" r="62.8" stroke-width="5" fill="none"/>
<circle cx="1604.1" cy="1953.9" r="51.0" stroke-width="5" fill="none"/>
<path d="M1633.1,1913.8 L1609.8,1937.2 Q1604.1,1942.9 1598.4,1937.2 L1575.1,1913.8" stroke-width="5" fill="none" stroke-linejoin="round" stroke-linecap="round"/>
<path d="M1644.2,1982.9 L1620.8,1959.6 Q1615.1,1953.9 1620.8,1948.2 L1644.2,1924.9" stroke-width="5" fill="none" stroke-linejoin="round" stroke-linecap="round"/>
<path d="M1575.1,1994.0 L1598.4,1970.6 Q1604.1,1964.9 1609.8,1970.6 L1633.1,1994.0" stroke-width="5" fill="none" stroke-linejoin="round" stroke-linecap="round"/>
<path d="M1564.0,1924.9 L1587.4,1948.2 Q1593.1,1953.9 1587.4,1959.6 L1564.0,1982.9" stroke-width="5" fill="none" stroke-linejoin="round" stroke-linecap="round"/>
<circle cx="1604.1" cy="1925.1" r="7.3" stroke-width="4" fill="none"/>
<circle cx="1573.8" cy="1953.9" r="7.3" stroke-width="4" fill="none"/>
<circle cx="1633.9" cy="1953.9" r="7.3" stroke-width="4" fill="none"/>
<circle cx="1604.1" cy="1983.9" r="7.3" stroke-width="4" fill="none"/>
<g font-weight="bold">
<text x="1617.0" y="1921.0" font-size="15" text-anchor="middle">2</text>
<text x="1564.5" y="1947.0" font-size="15" text-anchor="middle">3</text>
<text x="1643.0" y="1947.0" font-size="15" text-anchor="middle">1</text>
</g>
<polygon points="1585,1985 1595,1990 1588,2001" fill="#111" stroke="none"/>
<path d="M1376.6,1953.9 L1681.4,1953.9 M1694.6,1953.9 L1743.2,1953.9" stroke-width="2.6" fill="none" stroke-linejoin="round" stroke-linecap="butt"/>
<line x1="1640.2" y1="1917.8" x2="1956.8" y2="1602.0" stroke-width="2.6" stroke-linecap="butt"/>
<path d="M1604.1,1468.4 A485.5,485.5 0 0 1 1947.4,1610.6" stroke-width="2.6" fill="none" stroke-linejoin="round" stroke-linecap="butt"/>
<polygon points="1604.1,1468.4 1641.1,1462.4 1641.1,1474.4" stroke="none" fill="#111"/>
<polygon points="1947.4,1610.6 1917.0,1588.7 1925.5,1580.2" stroke="none" fill="#111"/>
<text x="1810.0" y="1500.0" font-size="38" text-anchor="middle" transform="rotate(24 1810.0 1500.0)">45°</text>
<line x1="1262.7" y1="1631.4" x2="1485.0" y2="1631.4" stroke-width="2.6" stroke-linecap="butt"/>
<line x1="1262.7" y1="2113.0" x2="1482.0" y2="2113.0" stroke-width="2.6" stroke-linecap="butt"/>
<line x1="1275.2" y1="1631.4" x2="1275.2" y2="2113.0" stroke-width="2.6" stroke-linecap="butt"/>
<polygon points="1275.2,1631.4 1281.2,1668.4 1269.2,1668.4" stroke="none" fill="#111"/>
<polygon points="1275.2,2113.0 1269.2,2076.0 1281.2,2076.0" stroke="none" fill="#111"/>
<text x="1269.8" y="1887.7" font-size="38" text-anchor="middle" transform="rotate(-90 1269.8 1887.7)">40</text>
<line x1="1389.2" y1="1631.4" x2="1389.2" y2="1953.9" stroke-width="2.6" stroke-linecap="butt"/>
<polygon points="1389.2,1631.4 1395.2,1668.4 1383.2,1668.4" stroke="none" fill="#111"/>
<polygon points="1389.2,1953.9 1383.2,1916.9 1395.2,1916.9" stroke="none" fill="#111"/>
<text x="1383.0" y="1807.0" font-size="38" text-anchor="middle" transform="rotate(-90 1383.0 1807.0)">27</text>
<line x1="1483.5" y1="2114.0" x2="1483.5" y2="2266.8" stroke-width="2.6" stroke-linecap="butt"/>
<line x1="1722.2" y1="2114.0" x2="1722.2" y2="2266.8" stroke-width="2.6" stroke-linecap="butt"/>
<line x1="1483.5" y1="2254.3" x2="1722.2" y2="2254.3" stroke-width="2.6" stroke-linecap="butt"/>
<polygon points="1483.5,2254.3 1520.5,2248.3 1520.5,2260.3" stroke="none" fill="#111"/>
<polygon points="1722.2,2254.3 1685.2,2260.3 1685.2,2248.3" stroke="none" fill="#111"/>
<text x="1599.3" y="2245.0" font-size="38" text-anchor="middle">20</text>
</svg></body></html>
